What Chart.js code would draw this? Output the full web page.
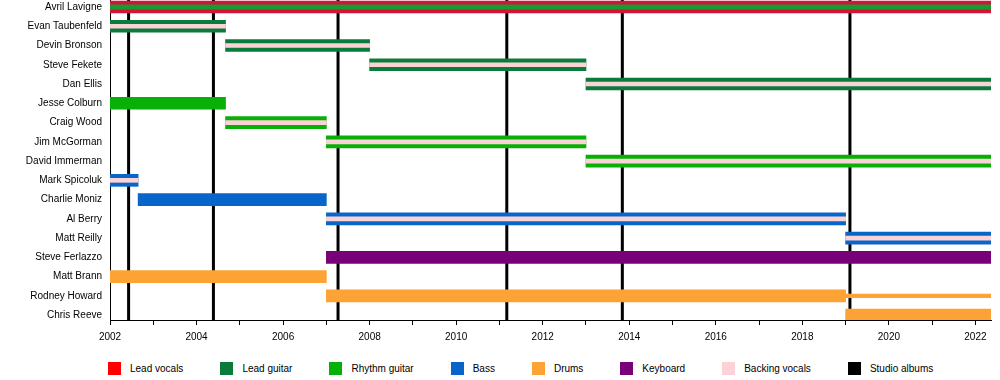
<!DOCTYPE html>
<html lang="en">
<head>
  <meta charset="UTF-8" />
  <title>Avril Lavigne band members</title>
  <script src="https://cdn.jsdelivr.net/npm/chart.js"></script>
  <style>
    body { margin: 0; background: #fff; font-family: "Liberation Sans", Arial, sans-serif; }
    #wrap { position: relative; width: 1000px; height: 380px; }
    #plot { position: absolute; left: 0; top: 0; width: 1000px; height: 350px; }
    #legend { position: absolute; left: 108px; top: 362px; display: flex; gap: 37px; font-size: 10px; color: #000; }
    #legend .item { display: flex; align-items: center; height: 13px; white-space: nowrap; }
    #legend .box { width: 13px; height: 13px; margin-right: 9px; }
  </style>
</head>
<body>
  <div id="wrap">
    <div id="plot"><canvas id="chart"></canvas></div>
    <div id="legend"></div>
  </div>

  <script>
    // rows, top to bottom
    const members = ['Avril Lavigne', 'Evan Taubenfeld', 'Devin Bronson', 'Steve Fekete', 'Dan Ellis',
      'Jesse Colburn', 'Craig Wood', 'Jim McGorman', 'David Immerman', 'Mark Spicoluk', 'Charlie Moniz',
      'Al Berry', 'Matt Reilly', 'Steve Ferlazzo', 'Matt Brann', 'Rodney Howard', 'Chris Reeve'];

    const startYear = 2002;
    const endYear = 2022.36;

    // [member, from, to]
    const leadVocals = [['Avril Lavigne', 2002, endYear]];
    const avrilGuitar = [['Avril Lavigne', 2002, endYear]];
    const leadGuitar = [['Evan Taubenfeld', 2002, 2004.67], ['Devin Bronson', 2004.67, 2008],
      ['Steve Fekete', 2008, 2013], ['Dan Ellis', 2013, endYear]];
    const rhythmGuitar = [['Jesse Colburn', 2002, 2004.67], ['Craig Wood', 2004.67, 2007],
      ['Jim McGorman', 2007, 2013], ['David Immerman', 2013, endYear]];
    const bass = [['Mark Spicoluk', 2002, 2002.65], ['Charlie Moniz', 2002.65, 2007],
      ['Al Berry', 2007, 2019], ['Matt Reilly', 2019, endYear]];
    const drums = [['Matt Brann', 2002, 2007], ['Rodney Howard', 2007, 2019], ['Chris Reeve', 2019, endYear]];
    const drumsThin = [['Rodney Howard', 2019, endYear]];
    const keyboard = [['Steve Ferlazzo', 2007, endYear]];
    const backingVocals = [['Evan Taubenfeld', 2002, 2004.67], ['Devin Bronson', 2004.67, 2008],
      ['Steve Fekete', 2008, 2013], ['Dan Ellis', 2013, endYear], ['Craig Wood', 2004.67, 2007],
      ['Jim McGorman', 2007, 2013], ['David Immerman', 2013, endYear], ['Mark Spicoluk', 2002, 2002.65],
      ['Al Berry', 2007, 2019], ['Matt Reilly', 2019, endYear]];

    const studioAlbums = [2002.43, 2004.39, 2007.27, 2011.17, 2013.84, 2019.1];

    const toBars = rows => rows.map(([name, from, to]) => ({ y: members.indexOf(name), x: [from, to] }));

    // vertical album markers, broken with NaN gaps
    const albumPoints = studioAlbums.flatMap(yr => [{ x: yr, y: -1 }, { x: yr, y: 17 }, { x: NaN, y: NaN }]);

    const bar = (label, rows, color, thickness, order, extra) => Object.assign({
      type: 'bar', label, data: toBars(rows), backgroundColor: color, borderWidth: 0,
      barThickness: thickness, maxBarThickness: thickness, grouped: false, order
    }, extra || {});

    const datasets = [
      bar('Lead vocals', leadVocals, '#cf1538', 12, 2, { legendColor: '#ff0000' }),
      bar('Lead guitar', leadGuitar, '#0b7b3b', 12, 2),
      bar('Rhythm guitar', rhythmGuitar, '#06b006', 12, 2),
      bar('Bass', bass, '#0865c9', 12, 2),
      bar('Drums', drums, '#fda234', 12, 2),
      bar('Keyboard', keyboard, '#780078', 12, 2),
      bar('Backing vocals', backingVocals, '#fbd3d6', 4, 0),
      {
        type: 'line', label: 'Studio albums', data: albumPoints, borderColor: '#000', backgroundColor: '#000',
        borderWidth: 3, pointRadius: 0, spanGaps: false, clip: 0, order: 3
      },
      bar('Avril guitar', avrilGuitar, '#199a30', 4.5, 0, { noLegend: true }),
      bar('Drums thin', drumsThin, '#fda234', 3.4, 2, { noLegend: true })
    ];

    Chart.defaults.font.family = '"Liberation Sans", Arial, sans-serif';
    Chart.defaults.font.size = 10;
    Chart.defaults.color = '#000';

    const chart = new Chart(document.getElementById('chart'), {
      type: 'bar',
      data: { datasets },
      options: {
        indexAxis: 'y',
        responsive: true,
        maintainAspectRatio: false,
        animation: false,
        layout: { padding: { top: 0, right: 9, bottom: 0, left: 0 } },
        plugins: { legend: { display: false }, tooltip: { enabled: false } },
        scales: {
          x: {
            type: 'linear',
            min: startYear,
            max: endYear,
            grid: { display: true, drawOnChartArea: false, tickLength: 5, color: '#000' },
            border: { display: true, color: '#000', width: 1 },
            ticks: {
              stepSize: 1, autoSkip: false, maxRotation: 0, includeBounds: false, padding: 6,
              callback: v => (v % 2 === 0 ? String(v) : '')
            },
            afterFit(scale) { scale.height = 30; scale.paddingLeft = 0; scale.paddingRight = 0; }
          },
          y: {
            type: 'linear',
            reverse: true,
            offset: false,
            min: -0.363,
            max: 16.252,
            grid: { display: false },
            border: { display: true, color: '#000', width: 1 },
            ticks: {
              stepSize: 1, autoSkip: false, includeBounds: false, padding: 0,
              callback: v => members[v] ?? ''
            },
            afterFit(scale) { scale.width = 110; scale.paddingTop = 0; scale.paddingBottom = 0; }
          }
        }
      }
    });

    // legend in html, from the chart's datasets
    const legend = document.getElementById('legend');
    chart.data.datasets.filter(ds => !ds.noLegend).forEach(ds => {
      const item = document.createElement('div');
      item.className = 'item';
      const box = document.createElement('span');
      box.className = 'box';
      box.style.background = ds.legendColor || ds.backgroundColor;
      item.appendChild(box);
      item.appendChild(document.createTextNode(ds.label));
      legend.appendChild(item);
    });
  </script>
</body>
</html>
